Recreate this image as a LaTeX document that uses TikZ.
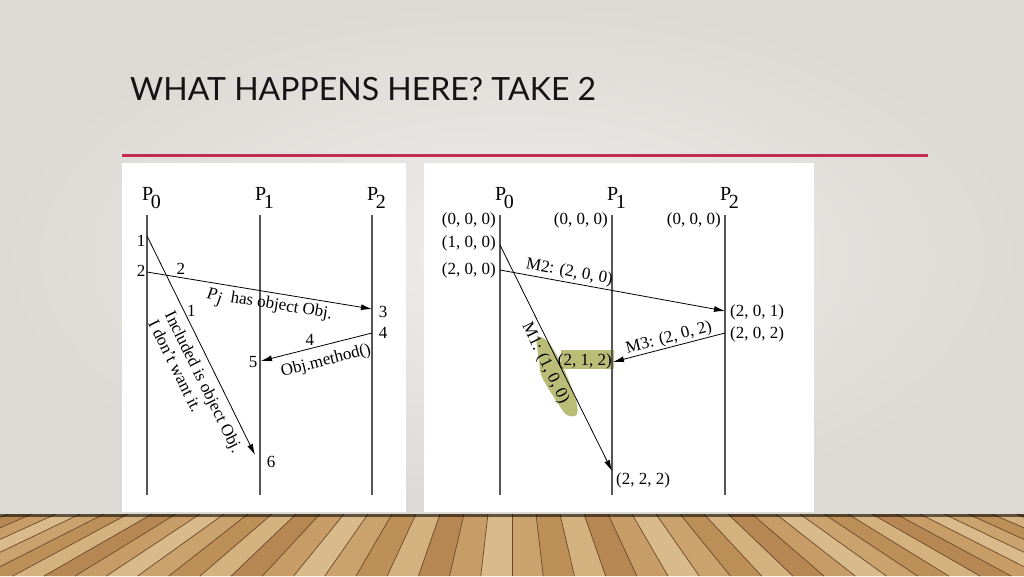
\documentclass[tikz,border=0pt]{standalone}
\usepackage{fontspec}
\setmainfont{Liberation Serif}
\newfontfamily\titlefont{Lato}
\usetikzlibrary{arrows.meta}
\definecolor{bgin}{HTML}{EEEDEA}
\definecolor{bgout}{HTML}{DCDAD5}
\definecolor{redline}{HTML}{C52A4F}
\definecolor{lifec}{HTML}{555555}
\definecolor{hlc}{HTML}{A9AD55}
\definecolor{wd0}{HTML}{C9A26E}
\definecolor{wd1}{HTML}{BC8E58}
\definecolor{wd2}{HTML}{D4B27F}
\definecolor{wd3}{HTML}{B68752}
\definecolor{wd4}{HTML}{C79C66}
\definecolor{wd5}{HTML}{D9BA8A}
\definecolor{woodline}{HTML}{6A4828}
\begin{document}
\begin{tikzpicture}[x=1pt,y=-1pt,
  lbl/.style={font=\fontsize{17}{18.5}\selectfont, inner sep=1pt},
  proc/.style={font=\fontsize{20}{21}\selectfont, inner sep=0pt},
  life/.style={draw=lifec, line width=1.1pt},
  msg/.style={line width=0.8pt, -{Latex[length=11pt,width=6pt]}},
  hl/.style={fill=hlc, opacity=0.8}]
\useasboundingbox (0,0) rectangle (1024,576);
% background
\shade[inner color=bgin, outer color=bgout] (0,0) rectangle (1024,514);
% wood floor
\begin{scope}
\clip (0,514) rectangle (1024,576);
\fill[wd0] (0,514) rectangle (1024,576);
\foreach \i in {-24,...,23}{
  \pgfmathtruncatemacro\c{mod(\i*7+600,6)}
  \fill[wd\c] ({512+\i*24},514) -- ({512+(\i+1)*24},514) -- ({512+(\i+1)*24*1.3},576) -- ({512+\i*24*1.3},576) -- cycle;
  \draw[woodline, line width=0.7pt] ({512+\i*24},514) -- ({512+\i*24*1.3},576);
}
\fill[black, opacity=0.55] (0,514) rectangle (1024,517);
\end{scope}
% title
\node[font=\titlefont\fontsize{32}{34}\selectfont, text=black!92, anchor=base west, inner sep=0pt] (title) at (130,100) {WHAT HAPPENS HERE? TAKE 2};
\draw[redline, line width=3pt] (122,155) -- (928,155);
% panels
\fill[white] (122,163) rectangle (406,512);
\fill[white] (424,163) rectangle (814,512);

% ---------- left diagram ----------
\node[proc, anchor=base west] (lp0) at (142,200) {P\kern-2.5pt\raisebox{-8pt}{0}};
\node[proc, anchor=base west] (lp1) at (255,200) {P\kern-2.5pt\raisebox{-8pt}{1}};
\node[proc, anchor=base west] (lp2) at (367,200) {P\kern-2.5pt\raisebox{-8pt}{2}};
\coordinate (la0) at (147,215); \coordinate (lb0) at (147,495);
\coordinate (la1) at (260,215); \coordinate (lb1) at (260,495);
\coordinate (la2) at (372,215); \coordinate (lb2) at (372,495);
\draw[life] (la0) -- (lb0);
\draw[life] (la1) -- (lb1);
\draw[life] (la2) -- (lb2);
\coordinate (e1) at (147,236);
\coordinate (e2) at (147,272);
\coordinate (e3) at (372,309);
\coordinate (e4) at (372,333);
\coordinate (e5) at (261,361);
\coordinate (e6) at (255,455);
\node[lbl] (n1) at (141,241) {1};
\node[lbl] (n2) at (141,271) {2};
\node[lbl] (n3) at (383,312) {3};
\node[lbl] (n4) at (383,333) {4};
\node[lbl] (n5) at (253,362) {5};
\node[lbl] (n6) at (271,462) {6};
\draw[msg] (e2) -- node[lbl, pos=0.15, above=1.5pt] (m2a) {2}
  node[lbl, pos=0.553, sloped, below=3pt] (m2b) {\textit{P}\kern0.5pt\raisebox{-4pt}{\textit{j}}\enspace has object Obj.} (e3);
\draw[msg] (e4) -- node[lbl, pos=0.56, above=2pt] (m4a) {4}
  node[lbl, pos=0.45, sloped, below=7pt] (m4b) {Obj.method()} (e5);
\draw[msg] (e1) -- node[lbl, pos=0.34, right=2pt] (m1a) {1}
  node[lbl, pos=0.32, sloped, anchor=north west, inner xsep=0pt, inner ysep=7pt, align=left] (m1b) {Included is object Obj.\\I don't want it.} (e6);

% ---------- right diagram ----------
\node[proc, anchor=base west] (rp0) at (495,200) {P\kern-2.5pt\raisebox{-8pt}{0}};
\node[proc, anchor=base west] (rp1) at (607,200) {P\kern-2.5pt\raisebox{-8pt}{1}};
\node[proc, anchor=base west] (rp2) at (720,200) {P\kern-2.5pt\raisebox{-8pt}{2}};
\coordinate (ra0) at (500,215); \coordinate (rb0) at (500,495);
\coordinate (ra1) at (612,215); \coordinate (rb1) at (612,495);
\coordinate (ra2) at (725,215); \coordinate (rb2) at (725,495);
% highlights
\fill[hl] (561,350) rectangle (614,369);
\fill[hl] plot[smooth cycle, tension=0.6] coordinates {(537,338) (548,342) (562,365) (575,397) (577,414) (567,415) (557,402) (542,377) (539,360)};
\draw[life] (ra0) -- (rb0);
\draw[life] (ra1) -- (rb1);
\draw[life] (ra2) -- (rb2);
\node[lbl, anchor=east] (v00) at (497,220) {(0, 0, 0)};
\node[lbl, anchor=east] (v10) at (609,220) {(0, 0, 0)};
\node[lbl, anchor=east] (v20) at (722,220) {(0, 0, 0)};
\node[lbl, anchor=east] (v01) at (497,243) {(1, 0, 0)};
\node[lbl, anchor=east] (v02) at (497,270) {(2, 0, 0)};
\node[lbl, anchor=west] (v21) at (729,312) {(2, 0, 1)};
\node[lbl, anchor=west] (v22) at (729,334) {(2, 0, 2)};
\node[lbl, anchor=east] (v11) at (613,361) {(2, 1, 2)};
\node[lbl, anchor=west] (v12) at (615,480) {(2, 2, 2)};
\coordinate (f1) at (500,245);
\coordinate (f2) at (500,270);
\coordinate (f3) at (725,311);
\coordinate (f4) at (725,333);
\coordinate (f5) at (613,362);
\coordinate (f6) at (612,471);
\draw[msg] (f2) -- node[lbl, pos=0.3, sloped, above=1pt] (mm2) {M2: (2, 0, 0)} (f3);
\draw[msg] (f4) -- node[lbl, pos=0.48, sloped, above=0pt] (mm3) {M3: (2, 0, 2)} (f5);
\draw[msg] (f1) -- node[lbl, pos=0.5, sloped, below=3pt] (mm1) {M1: (1, 0, 0)} (f6);
\end{tikzpicture}
\end{document}
